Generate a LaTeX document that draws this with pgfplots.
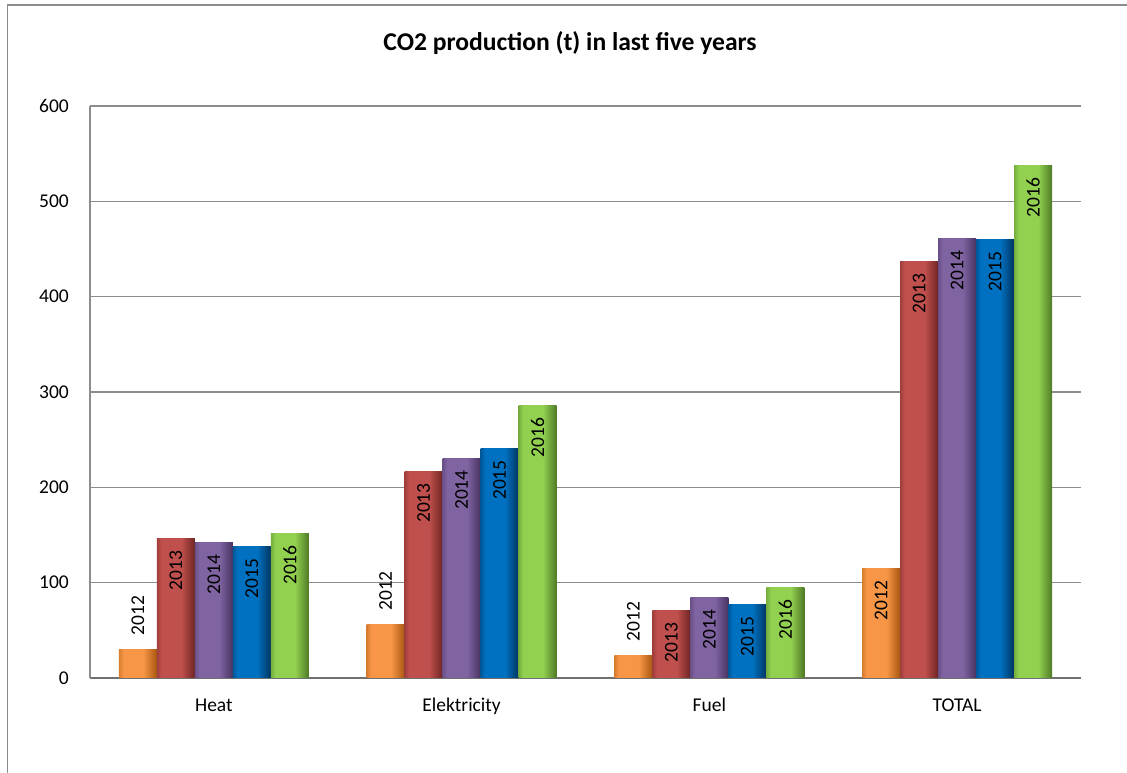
\documentclass[border=0pt]{standalone}
\usepackage{graphicx}
\usepackage{pgfplots}
\pgfplotsset{compat=1.18}
\usepackage{fontspec}
\setmainfont{Carlito}

\definecolor{c12}{HTML}{F79646}\definecolor{d12}{HTML}{A8570F}
\definecolor{c13}{HTML}{C0504D}\definecolor{d13}{HTML}{6E2523}
\definecolor{c14}{HTML}{8064A2}\definecolor{d14}{HTML}{463461}
\definecolor{c15}{HTML}{0070C0}\definecolor{d15}{HTML}{003560}
\definecolor{c16}{HTML}{92D050}\definecolor{d16}{HTML}{4E7A25}
\definecolor{gridgray}{HTML}{8C8C8C}

\pgfdeclarehorizontalshading{sh12}{100bp}{color(0bp)=(d12!40!c12); color(25bp)=(d12!40!c12); color(31bp)=(c12); color(57bp)=(c12); color(75bp)=(d12); color(100bp)=(d12)}
\pgfdeclarehorizontalshading{sh13}{100bp}{color(0bp)=(d13!40!c13); color(25bp)=(d13!40!c13); color(31bp)=(c13); color(57bp)=(c13); color(75bp)=(d13); color(100bp)=(d13)}
\pgfdeclarehorizontalshading{sh14}{100bp}{color(0bp)=(d14!40!c14); color(25bp)=(d14!40!c14); color(31bp)=(c14); color(57bp)=(c14); color(75bp)=(d14); color(100bp)=(d14)}
\pgfdeclarehorizontalshading{sh15}{100bp}{color(0bp)=(d15!40!c15); color(25bp)=(d15!40!c15); color(31bp)=(c15); color(57bp)=(c15); color(75bp)=(d15); color(100bp)=(d15)}
\pgfdeclarehorizontalshading{sh16}{100bp}{color(0bp)=(d16!40!c16); color(25bp)=(d16!40!c16); color(31bp)=(c16); color(57bp)=(c16); color(75bp)=(d16); color(100bp)=(d16)}

% one bar: x, y, shift, year (label inside the bar end)
\newcommand\barin[4]{\addplot[ybar, bar shift=#3, draw=none, shading=sh#4,
  nodes near coords={\rotatebox{90}{20#4}},
  every node near coord/.append style={anchor=north, xshift=#3, inner xsep=0pt, inner ysep=12pt}]
  coordinates {(#1,#2)};}
% one bar with the label above it
\newcommand\barout[4]{\addplot[ybar, bar shift=#3, draw=none, shading=sh#4,
  nodes near coords={\rotatebox{90}{20#4}},
  every node near coord/.append style={anchor=south, xshift=#3, inner xsep=0pt, inner ysep=14pt}]
  coordinates {(#1,#2)};}

\begin{document}
\begin{tikzpicture}
\fill[white] (-90pt,-95pt) rectangle (1037pt,678pt);
\useasboundingbox (-90pt,-95pt) rectangle (1037pt,678pt);
\draw[gridgray, line width=1.8pt] (-82.5pt,-95pt) -- (-82.5pt,673pt) -- (1037pt,673pt);
\node[anchor=base, font=\fontsize{25.6}{30}\selectfont\bfseries] at (480pt,627pt) {CO2 production (t) in last five years};
\begin{axis}[
  scale only axis, width=991pt, height=572pt,
  xmin=-0.5, xmax=3.5, ymin=0, ymax=600,
  xtick={0,1,2,3}, xticklabels={Heat,Elektricity,Fuel,TOTAL},
  ytick={0,100,...,600},
  axis x line*=bottom, axis y line*=left,
  x axis line style={gridgray!80!black, line width=2.2pt, -},
  y axis line style={gridgray, line width=1.5pt, -},
  ymajorgrids, grid style={gridgray, line width=1.5pt},
  major tick length=0pt,
  /pgf/number format/assume math mode=true,
  tick label style={font=\fontsize{19.5}{23}\selectfont, inner sep=0pt},
  yticklabel style={anchor=east, xshift=-21pt},
  xticklabel style={anchor=base, yshift=-34pt},
  bar width=38pt,
  clip=false,
  every node near coord/.append style={font=\fontsize{19.5}{23}\selectfont, black},
]
% 2012
\barout{0}{30}{-76pt}{12}
\barout{1}{55.7}{-76pt}{12}
\barout{2}{23.8}{-76pt}{12}
\barin{3}{115}{-76pt}{12}
% 2013
\barin{0}{146}{-38pt}{13}
\barin{1}{217}{-38pt}{13}
\barin{2}{70.8}{-38pt}{13}
\barin{3}{437}{-38pt}{13}
% 2014
\barin{0}{142}{0pt}{14}
\barin{1}{230.7}{0pt}{14}
\barin{2}{84}{0pt}{14}
\barin{3}{461}{0pt}{14}
% 2015
\barin{0}{138}{38pt}{15}
\barin{1}{241.2}{38pt}{15}
\barin{2}{76.8}{38pt}{15}
\barin{3}{460}{38pt}{15}
% 2016
\barin{0}{152}{76pt}{16}
\barin{1}{285.7}{76pt}{16}
\barin{2}{94.6}{76pt}{16}
\barin{3}{537.5}{76pt}{16}
\end{axis}
\end{tikzpicture}
\end{document}
